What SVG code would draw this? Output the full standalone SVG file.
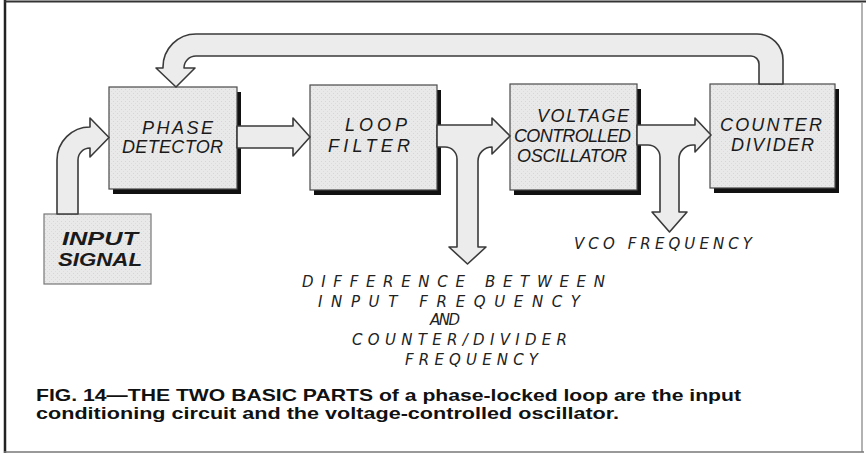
<svg xmlns="http://www.w3.org/2000/svg" width="868" height="455" viewBox="0 0 868 455">
<defs>
<pattern id="stip" width="4" height="4" patternUnits="userSpaceOnUse">
<rect width="4" height="4" fill="#e9e9e9"/>
<rect x="1" y="1" width="1" height="1" fill="#d6d6d6"/>
<rect x="3" y="3" width="1" height="1" fill="#dcdcdc"/>
</pattern>
<style>
.box{fill:url(#stip);stroke:#4a4a4a;stroke-width:1.2}
.shadow{fill:#111}
.inbox{fill:url(#stip);stroke:#777;stroke-width:1.2}
.arrow{fill:#ececec;stroke:#3a3a3a;stroke-width:1.6;stroke-linejoin:round}
.lbl{font-family:"Liberation Sans",Arial,sans-serif;font-style:italic;fill:#1a1a1a;font-size:18px}
.bold{font-weight:bold}
.note{font-family:"DejaVu Sans","Liberation Sans",sans-serif;font-style:italic;font-weight:200;fill:#222;font-size:15px}
.cap{font-family:"Liberation Sans",Arial,sans-serif;font-weight:bold;fill:#111;font-size:16.5px}
</style>
</defs>
<rect width="868" height="455" fill="#ffffff"/>
<g id="frame">
<line x1="5" y1="0" x2="5" y2="453" stroke="#222" stroke-width="2.5"/>
<line x1="4" y1="1.5" x2="866" y2="1.5" stroke="#333" stroke-width="2"/>
<line x1="862" y1="2" x2="862" y2="452" stroke="#999" stroke-width="1.5"/>
<line x1="4" y1="452" x2="864" y2="452" stroke="#777" stroke-width="1.5"/>
</g>
<g id="phase-detector">
<rect class="shadow" x="113" y="92" width="128" height="102"/>
<rect class="box" x="109" y="87" width="128" height="102"/>
<text class="lbl" x="142" y="134" font-size="17" textLength="71" lengthAdjust="spacing">PHASE</text>
<text class="lbl" x="122" y="153" font-size="17" textLength="101" lengthAdjust="spacing">DETECTOR</text>
</g>
<g id="loop-filter">
<rect class="shadow" x="314" y="90" width="127" height="105"/>
<rect class="box" x="310" y="85" width="127" height="105"/>
<text class="lbl" x="345" y="131" textLength="62" lengthAdjust="spacing">LOOP</text>
<text class="lbl" x="328" y="152" textLength="82" lengthAdjust="spacing">FILTER</text>
</g>
<g id="vco">
<rect class="shadow" x="514" y="89" width="127" height="106"/>
<rect class="box" x="510" y="84" width="127" height="106"/>
<text class="lbl" x="537" y="122" font-size="17" textLength="92" lengthAdjust="spacing">VOLTAGE</text>
<text class="lbl" x="514" y="142" font-size="17" textLength="117" lengthAdjust="spacing">CONTROLLED</text>
<text class="lbl" x="517" y="162" font-size="17" textLength="110" lengthAdjust="spacing">OSCILLATOR</text>
</g>
<g id="counter-divider">
<rect class="shadow" x="714" y="89" width="125" height="104"/>
<rect class="box" x="710" y="84" width="125" height="104"/>
<text class="lbl" x="720" y="131" textLength="102" lengthAdjust="spacing">COUNTER</text>
<text class="lbl" x="731" y="151" textLength="83" lengthAdjust="spacing">DIVIDER</text>
</g>
<g id="input-signal">
<rect class="inbox" x="44" y="214" width="107" height="70"/>
<text class="lbl bold" x="62" y="245" font-size="16" textLength="76" lengthAdjust="spacingAndGlyphs">INPUT</text>
<text class="lbl bold" x="58" y="266" font-size="16" textLength="84" lengthAdjust="spacingAndGlyphs">SIGNAL</text>
</g>
<g id="connectors">
<path class="arrow" d="M 57 214 L 57 160 A 33 33 0 0 1 90 127 L 90 118 L 109 137.5 L 90 157 L 90 148 A 12 12 0 0 0 78 160 L 78 214 Z"/>
<path class="arrow" d="M 783 84 L 783 60 A 26 26 0 0 0 757 34 L 196 34 A 33 33 0 0 0 163 67 L 163 68 L 156 68 L 176 87 L 195 68 L 184 68 A 12 12 0 0 1 196 56 L 751 56 A 8 8 0 0 1 759 64 L 759 84 Z"/>
<path class="arrow" d="M 237 126 L 293 126 L 293 118 L 310 137 L 293 156 L 293 148 L 237 148 Z"/>
<path class="arrow" d="M 437 125 L 492 125 L 492 118 L 510 136 L 492 154 L 492 147 A 14 14 0 0 0 478 161 L 478 247 L 486 247 L 467.5 264 L 449 247 L 457 247 L 457 159 A 12 12 0 0 0 445 147 L 437 147 Z"/>
<path class="arrow" d="M 637 125 L 695 125 L 695 118 L 711 135 L 695 152 L 695 145 L 693 145 A 14 14 0 0 0 679 159 L 679 212 L 687 212 L 669.5 232 L 652 212 L 660 212 L 660 157 A 12 12 0 0 0 648 145 L 637 145 Z"/>
</g>
<g id="labels">
<text class="note" x="574" y="249" font-size="15.5" textLength="178" lengthAdjust="spacing">VCO FREQUENCY</text>
<text class="note" x="302" y="287" textLength="303" lengthAdjust="spacing">DIFFERENCE BETWEEN</text>
<text class="note" x="318" y="307" textLength="262" lengthAdjust="spacing">INPUT FREQUENCY</text>
<text class="note" x="430" y="325" textLength="30" lengthAdjust="spacing">AND</text>
<text class="note" x="352" y="345" textLength="215" lengthAdjust="spacing">COUNTER/DIVIDER</text>
<text class="note" x="405" y="365" textLength="133" lengthAdjust="spacing">FREQUENCY</text>
</g>
<g id="caption">
<text class="cap" x="36" y="401" textLength="705" lengthAdjust="spacingAndGlyphs">FIG. 14—THE TWO BASIC PARTS of a phase-locked loop are the input</text>
<text class="cap" x="36" y="419" textLength="583" lengthAdjust="spacingAndGlyphs">conditioning circuit and the voltage-controlled oscillator.</text>
</g>
</svg>
